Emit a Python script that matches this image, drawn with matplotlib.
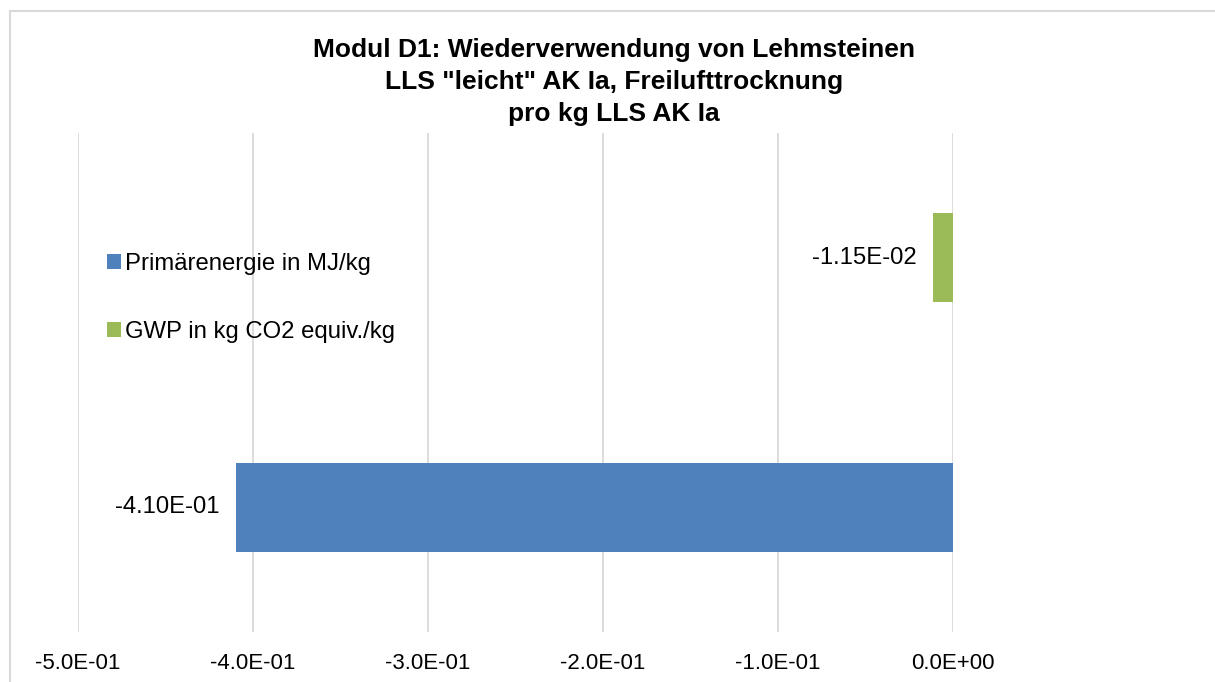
import matplotlib.pyplot as plt
from matplotlib.patches import Patch
from matplotlib.lines import Line2D

# data
kategorien = ["Primärenergie in MJ/kg", "GWP in kg CO2 equiv./kg"]
werte = [-4.10e-01, -1.15e-02]
farben = ["#4F81BD", "#9BBB59"]
x_ticks = [-0.5, -0.4, -0.3, -0.2, -0.1, 0.0]
x_tick_labels = ["-5.0E-01", "-4.0E-01", "-3.0E-01", "-2.0E-01", "-1.0E-01", "0.0E+00"]
titel = 'Modul D1: Wiederverwendung von Lehmsteinen\nLLS "leicht" AK Ia, Freilufttrocknung\npro kg LLS AK Ia'

plt.rcParams['font.family'] = ['Liberation Sans', 'DejaVu Sans']

W, H = 1215, 682
fig = plt.figure(figsize=(W / 100, H / 100), dpi=100)
ax = fig.add_axes([78 / W, 1 - 632 / H, 875 / W, 499 / H])

y_pos = list(range(len(werte)))
ax.barh(y_pos, werte, height=0.357, color=farben, zorder=3)

for y, v in zip(y_pos, werte):
    ax.annotate(f"{v:.2E}", xy=(v, y), xytext=(-11.5, 0),
                textcoords="offset points", ha="right", va="center",
                fontsize=17.2, color="#000000")

ax.set_xlim(-0.5, 0.0)
ax.set_ylim(-0.5, 1.5)
ax.set_xticks(x_ticks)
ax.set_xticklabels(x_tick_labels, fontsize=16, color="#000000")
ax.set_yticks([])
ax.tick_params(axis="x", length=0, pad=15)
ax.xaxis.grid(True, color="#D9D9D9", linewidth=1.3, zorder=0)
for s in ax.spines.values():
    s.set_visible(False)

handles = [Patch(facecolor=c, edgecolor="none") for c in farben]
fig.legend(handles, kategorien, loc="center left",
           bbox_to_anchor=(107 / W, 1 - 298 / H), frameon=False,
           fontsize=17.2, handlelength=0.58, handleheight=0.58,
           handletextpad=0.17, labelspacing=1.93, borderpad=0, borderaxespad=0)

fig.text(614 / W, 1 - 82 / H, titel, ha="center", va="center",
         fontsize=19, fontweight="bold", linespacing=1.43)

# chart border (only top and left are visible in the crop)
fig.add_artist(Line2D([10.5 / W, 10.5 / W], [1 - 11 / H, 0], color="#D9D9D9", linewidth=1.5))
fig.add_artist(Line2D([10 / W, 1], [1 - 11 / H, 1 - 11 / H], color="#D9D9D9", linewidth=1.5))

fig.savefig("out.png", dpi=100)
